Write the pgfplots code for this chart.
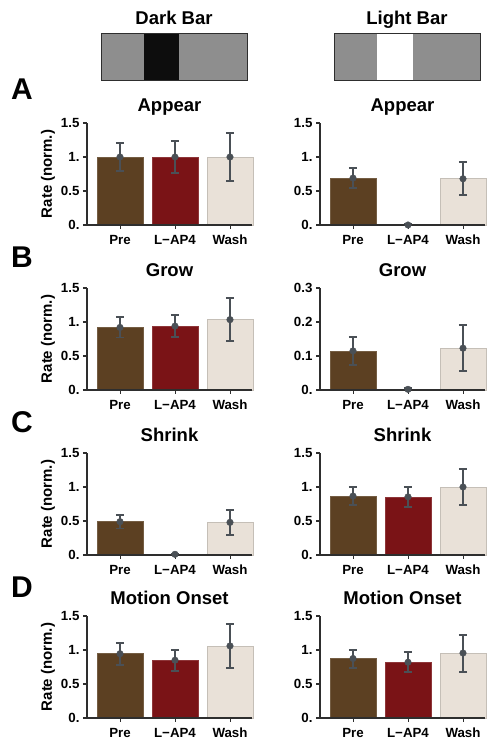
\documentclass[border=0pt]{standalone}
\usepackage{fontspec}
\setmainfont{Liberation Sans}
\usepackage{pgfplots}
\usepackage{pgfplotstable}
\pgfplotsset{compat=1.18}
\definecolor{cpre}{HTML}{5C4022}
\definecolor{clap}{HTML}{7A1316}
\definecolor{cwash}{HTML}{E9E1D8}
\definecolor{cwashe}{HTML}{C5BFB7}
\definecolor{cerr}{HTML}{4A5056}
\definecolor{caxis}{HTML}{2E2E2E}
\definecolor{cicon}{HTML}{8E8E8E}

\pgfplotstableread{
x y ep em
0 1.00 0.20 0.20
1 1.00 0.23 0.23
2 1.00 0.35 0.35
}\tAL
\pgfplotstableread{
x y ep em
0 0.69 0.15 0.14
1 0.00 0.01 0.00
2 0.68 0.24 0.24
}\tAR
\pgfplotstableread{
x y ep em
0 0.92 0.155 0.148
1 0.94 0.165 0.158
2 1.035 0.313 0.313
}\tBL
\pgfplotstableread{
x y ep em
0 0.115 0.042 0.041
1 0.002 0.005 0.002
2 0.123 0.069 0.068
}\tBR
\pgfplotstableread{
x y ep em
0 0.49 0.10 0.10
1 0.01 0.01 0.01
2 0.48 0.18 0.18
}\tCL
\pgfplotstableread{
x y ep em
0 0.867 0.13 0.13
1 0.855 0.145 0.145
2 1.00 0.27 0.27
}\tCR
\pgfplotstableread{
x y ep em
0 0.945 0.155 0.17
1 0.85 0.155 0.165
2 1.06 0.32 0.32
}\tDL
\pgfplotstableread{
x y ep em
0 0.875 0.13 0.14
1 0.82 0.145 0.14
2 0.955 0.26 0.28
}\tDR

\pgfplotsset{
  panel/.style={scale only axis, width=165pt, height=102pt,
    xmin=-0.6, xmax=2.4, ymin=0, ymax=1.5,
    anchor=south west,
    axis x line=bottom, axis y line=left,
    axis line style={-, caxis, line width=1.1pt},
    xtick={0,1,2}, xticklabels={Pre,L−AP4,Wash},
    ytick={0,0.5,1,1.5}, yticklabels={0.,0.5,1.,1.5},
    tick align=outside, major tick length=4pt,
    major x tick style={caxis, line width=0.9pt},
    y tick style={caxis, line width=1.1pt},
    tick label style={font=\fontsize{13.3}{14}\selectfont\bfseries},
    xticklabel style={anchor=base, yshift=-15.5pt, inner sep=0pt},
    clip=false, axis on top},
  small/.style={ymax=0.3, ytick={0,0.1,0.2,0.3}, yticklabels={0.,0.1,0.2,0.3}}
}

\newcommand{\bars}[1]{%
 \addplot[ybar, bar width=0.836, fill=cpre, draw=cpre!85!white, line width=0.5pt, x filter/.expression={x==0?x:nan}] table[x=x,y=y]{#1};
 \addplot[ybar, bar width=0.836, fill=clap, draw=clap!85!white, line width=0.5pt, x filter/.expression={x==1?x:nan}] table[x=x,y=y]{#1};
 \addplot[ybar, bar width=0.836, fill=cwash, draw=cwashe, line width=0.8pt, x filter/.expression={x==2?x:nan}] table[x=x,y=y]{#1};
 \addplot[cerr, only marks, mark=*, mark size=3.3pt,
   error bars/.cd, y dir=both, y explicit,
   error bar style={line width=1.9pt, cerr},
   error mark options={rotate=90, mark size=4.2pt, line width=1.9pt, cerr}]
   table[x=x, y=y, y error plus=ep, y error minus=em]{#1};
}

\newcommand{\ttl}{\fontsize{18.5}{20}\selectfont\bfseries}
\newcommand{\ylab}{\fontsize{15}{16}\selectfont\bfseries}
\newcommand{\lett}{\fontsize{30}{32}\selectfont\bfseries}

\begin{document}
\begin{tikzpicture}
\useasboundingbox (0,0) rectangle (489pt,742pt);
% icons
\fill[cicon] (101pt,662pt) rectangle (247pt,709pt);
\fill[black!95] (144pt,662pt) rectangle (179pt,709pt);
\draw[caxis, line width=0.8pt] (101pt,662pt) rectangle (247pt,709pt);
\fill[cicon] (334pt,662pt) rectangle (480pt,709pt);
\fill[white] (377pt,662pt) rectangle (413pt,709pt);
\draw[caxis, line width=0.8pt] (334pt,662pt) rectangle (480pt,709pt);
\node[anchor=base, font=\ttl] at (174pt,717pt) {Dark Bar};
\node[anchor=base, font=\ttl] at (407pt,717pt) {Light Bar};

% row A
\begin{axis}[panel, at={(87pt,517pt)}] \bars{\tAL} \end{axis}
\begin{axis}[panel, at={(320pt,517pt)}] \bars{\tAR} \end{axis}
% row B
\begin{axis}[panel, at={(87pt,352pt)}] \bars{\tBL} \end{axis}
\begin{axis}[panel, small, at={(320pt,352pt)}] \bars{\tBR} \end{axis}
% row C
\begin{axis}[panel, at={(87pt,187pt)}] \bars{\tCL} \end{axis}
\begin{axis}[panel, at={(320pt,187pt)}] \bars{\tCR} \end{axis}
% row D
\begin{axis}[panel, at={(87pt,24pt)}] \bars{\tDL} \end{axis}
\begin{axis}[panel, at={(320pt,24pt)}] \bars{\tDR} \end{axis}

% titles
\node[anchor=base, font=\ttl] at (169.5pt,630pt) {Appear};
\node[anchor=base, font=\ttl] at (402.5pt,630pt) {Appear};
\node[anchor=base, font=\ttl] at (169.5pt,465pt) {Grow};
\node[anchor=base, font=\ttl] at (402.5pt,465pt) {Grow};
\node[anchor=base, font=\ttl] at (169.5pt,300pt) {Shrink};
\node[anchor=base, font=\ttl] at (402.5pt,300pt) {Shrink};
\node[anchor=base, font=\ttl] at (169.5pt,137pt) {Motion Onset};
\node[anchor=base, font=\ttl] at (402.5pt,137pt) {Motion Onset};
% letters
\node[anchor=base west, font=\lett, inner sep=0pt] at (11pt,642pt) {A};
\node[anchor=base west, font=\lett, inner sep=0pt] at (11pt,474pt) {B};
\node[anchor=base west, font=\lett, inner sep=0pt] at (11pt,309pt) {C};
\node[anchor=base west, font=\lett, inner sep=0pt] at (11pt,144pt) {D};
% y labels
\node[rotate=90, font=\ylab] at (48pt,568pt) {Rate (norm.)};
\node[rotate=90, font=\ylab] at (48pt,403pt) {Rate (norm.)};
\node[rotate=90, font=\ylab] at (48pt,238pt) {Rate (norm.)};
\node[rotate=90, font=\ylab] at (48pt,75pt) {Rate (norm.)};
\end{tikzpicture}
\end{document}
